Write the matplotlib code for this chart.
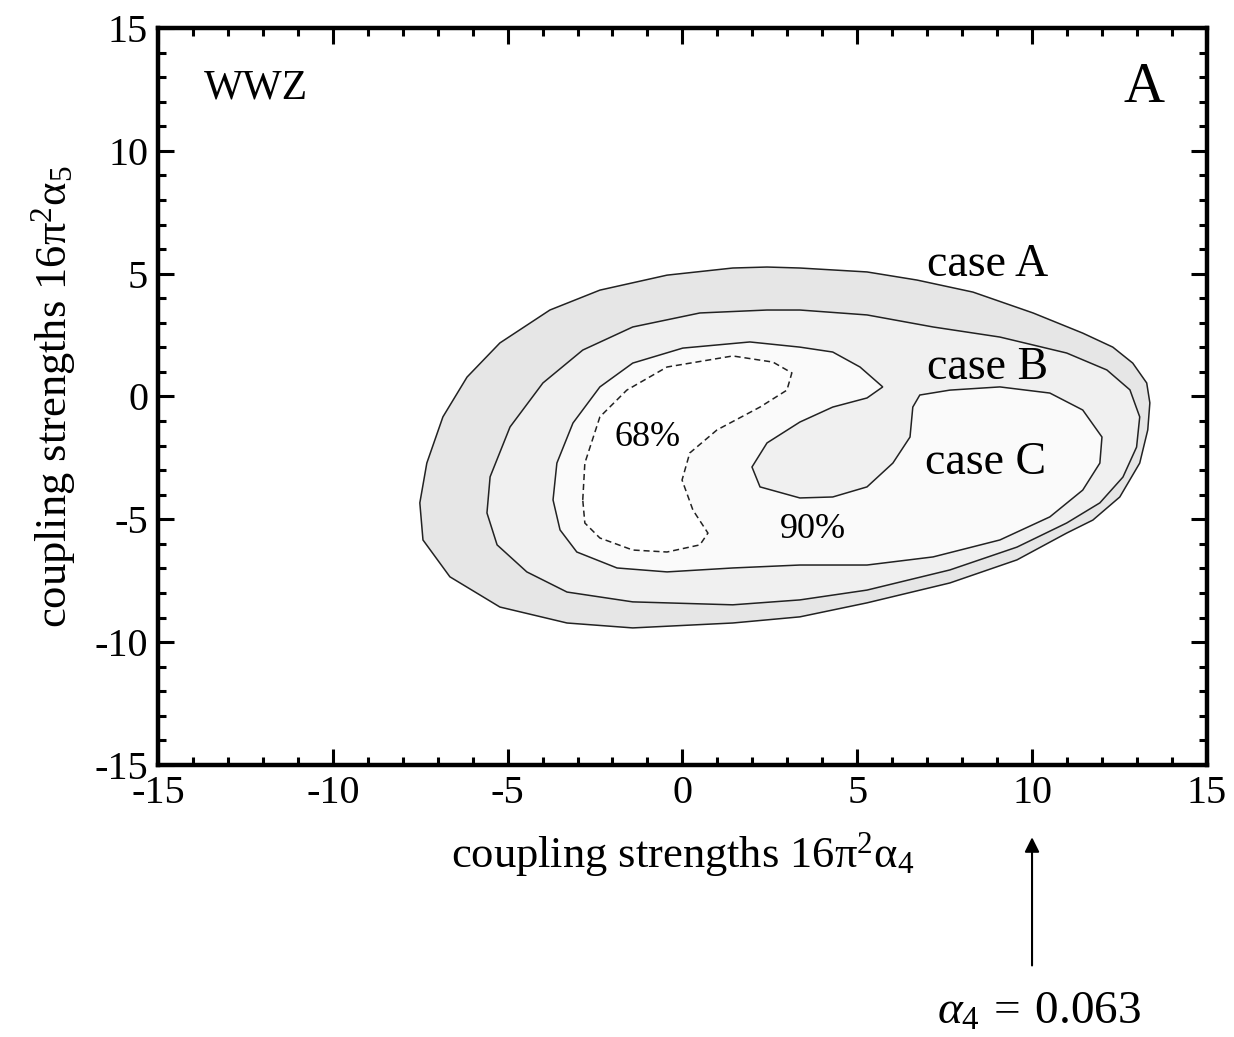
#!/usr/bin/env python

import numpy as np
import matplotlib
matplotlib.use('Agg')
from matplotlib import pyplot as plt

plt.rcParams['font.family'] = ['Liberation Serif', 'DejaVu Serif']
plt.rcParams['mathtext.fontset'] = 'custom'
plt.rcParams['mathtext.rm'] = 'Liberation Serif'
plt.rcParams['mathtext.it'] = 'Liberation Serif:italic'
plt.rcParams['axes.unicode_minus'] = False

# Contours (16pi^2 alpha_4, 16pi^2 alpha_5)
case_a_x = [-7.51, -7.31, -6.85, -6.16, -5.22, -3.79, -2.36, -0.44, 1.44, 2.42, 3.36, 5.28,
            6.71, 8.31, 10.03, 11.45, 12.31, 12.88, 13.28, 13.37, 13.31, 13.08, 12.51, 11.74,
            10.99, 9.57, 7.65, 5.28, 3.36, 1.44, -1.42, -3.30, -5.22, -6.65, -7.42]
case_a_y = [-4.33, -2.71, -0.83, 0.79, 2.18, 3.52, 4.33, 4.94, 5.23, 5.27, 5.23, 5.07,
            4.74, 4.25, 3.40, 2.58, 2.01, 1.36, 0.55, -0.26, -1.36, -2.71, -4.09, -5.03,
            -5.56, -6.65, -7.59, -8.40, -8.97, -9.22, -9.42, -9.22, -8.57, -7.34, -5.84]

case_b_x = [-5.59, -5.50, -4.93, -3.99, -2.85, -1.42, 0.50, 2.42, 3.36, 5.28, 7.17, 9.08,
            10.99, 12.14, 12.80, 13.08, 12.99, 12.60, 11.94, 10.99, 9.57, 7.65, 5.28, 3.36,
            1.44, -1.42, -3.30, -4.45, -5.30]
case_b_y = [-4.74, -3.27, -1.24, 0.55, 1.89, 2.83, 3.40, 3.52, 3.52, 3.32, 2.83, 2.42,
            1.77, 1.08, 0.27, -0.83, -2.06, -3.28, -4.33, -5.15, -6.13, -7.06, -7.88, -8.28,
            -8.48, -8.36, -7.96, -7.14, -6.04]

case_c_x = [-3.70, -3.59, -3.13, -2.36, -1.42, 0.01, 1.93, 3.36, 4.30, 5.08, 5.73, 5.28,
            4.30, 3.36, 2.42, 1.99, 2.22, 3.36, 4.30, 5.28, 6.02, 6.51, 6.59, 6.79,
            7.65, 9.08, 10.51, 11.45, 12.00, 11.94, 11.45, 10.51, 9.08, 7.17, 5.28, 3.36,
            1.44, -0.44, -1.87, -3.02, -3.50]
case_c_y = [-4.21, -2.71, -1.08, 0.39, 1.36, 1.97, 2.22, 2.01, 1.81, 1.20, 0.39, -0.06,
            -0.43, -1.04, -1.89, -2.87, -3.68, -4.13, -4.09, -3.68, -2.71, -1.65, -0.43, 0.06,
            0.26, 0.39, 0.14, -0.55, -1.65, -2.71, -3.81, -4.90, -5.84, -6.53, -6.86, -6.86,
            -6.98, -7.14, -6.98, -6.33, -5.43]

cl68_x = [-2.85, -2.79, -2.36, -1.59, -0.44, 1.44, 2.59, 3.13, 2.99, 2.22, 0.99, 0.21,
          -0.01, 0.30, 0.73, 0.50, -0.44, -1.42, -2.36, -2.79]
cl68_y = [-4.21, -2.71, -0.83, 0.26, 1.20, 1.65, 1.40, 0.96, 0.26, -0.43, -1.36, -2.30,
          -3.40, -4.62, -5.56, -6.04, -6.33, -6.25, -5.76, -5.15]

ticks = [-15, -10, -5, 0, 5, 10, 15]


def main():
    fig = plt.figure(figsize=(12.34, 10.37), dpi=100)
    ax = fig.add_axes([0.128, 0.2623, 0.85, 0.7107])

    ax.fill(case_a_x, case_a_y, facecolor='#e6e6e6', edgecolor='#222222', lw=1.1)
    ax.fill(case_b_x, case_b_y, facecolor='#f0f0f0', edgecolor='#222222', lw=1.1)
    ax.fill(case_c_x, case_c_y, facecolor='#fafafa', edgecolor='#222222', lw=1.1)
    ax.fill(cl68_x, cl68_y, facecolor='white', edgecolor='#222222', lw=1.1,
            linestyle=(0, (4, 2.5)))

    ax.set_xlim(-15, 15)
    ax.set_ylim(-15, 15)
    ax.set_xticks(ticks)
    ax.set_yticks(ticks)
    ax.set_xticks(np.arange(-15, 16, 1), minor=True)
    ax.set_yticks(np.arange(-15, 16, 1), minor=True)
    ax.tick_params(which='both', direction='in', top=True, right=True, width=2.2)
    ax.tick_params(which='major', length=11.5, labelsize=29, pad=7)
    ax.tick_params(which='minor', length=6)
    for s in ax.spines.values():
        s.set_linewidth(3.2)

    ax.set_xlabel('coupling strengths 16π$^{2}$α$_{4}$', fontsize=32)
    ax.set_ylabel('coupling strengths 16π$^{2}$α$_{5}$', fontsize=32)
    ax.xaxis.set_label_coords(0.5, -0.088)
    ax.yaxis.set_label_coords(-0.076, 0.5)

    ax.text(-13.7, 12.55, 'WWZ', fontsize=30, ha='left', va='center')
    ax.text(13.8, 12.55, 'A', fontsize=41, ha='right', va='center')
    ax.text(7.0, 5.35, 'case A', fontsize=33, ha='left', va='center')
    ax.text(7.0, 1.16, 'case B', fontsize=33, ha='left', va='center')
    ax.text(6.95, -2.71, 'case C', fontsize=33, ha='left', va='center')
    ax.text(-1.95, -1.65, '68%', fontsize=26, ha='left', va='center')
    ax.text(2.79, -5.43, '90%', fontsize=26, ha='left', va='center')

    # arrow marking alpha_4 = 0.063 below the axis
    ax.annotate('', xy=(10, -0.098), xycoords=('data', 'axes fraction'),
                xytext=(10, -0.272), textcoords=('data', 'axes fraction'),
                arrowprops=dict(arrowstyle='-|>', color='black', lw=1.5,
                                mutation_scale=22, shrinkA=0, shrinkB=0),
                annotation_clip=False)
    ax.text(10.2, -0.336, r'$\alpha_4\:=\:0.063$', fontsize=34, ha='center', va='center',
            transform=ax.get_xaxis_transform(), clip_on=False)

    fig.savefig('out.png', dpi=100)
    plt.close(fig)


if __name__ == '__main__':
    main()
